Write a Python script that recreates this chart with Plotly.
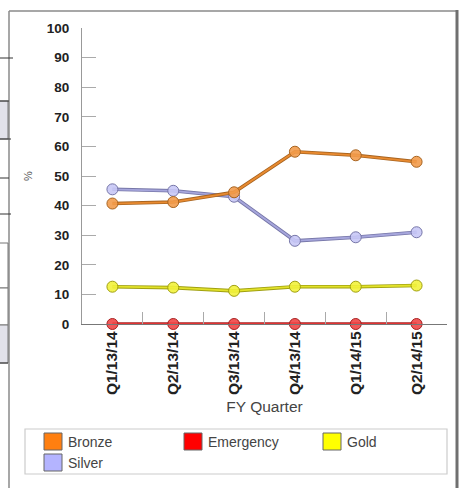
import plotly.graph_objects as go

quarters = ["Q1/13/14", "Q2/13/14", "Q3/13/14", "Q4/13/14", "Q1/14/15", "Q2/14/15"]
bronze = [40.7, 41.2, 44.5, 58.2, 57.0, 54.8]
silver = [45.5, 45.0, 43.0, 28.1, 29.3, 31.0]
gold = [12.6, 12.3, 11.2, 12.6, 12.6, 13.0]
emergency = [0, 0, 0, 0, 0, 0]

series_names = ["Bronze", "Emergency", "Gold", "Silver"]
series_values = [bronze, emergency, gold, silver]
core_colors = ["#E88A30", "#E23232", "#E2E22A", "#A6A6DC"]
edge_colors = ["#A86420", "#A82020", "#A0A010", "#7676A8"]
marker_fill = ["rgba(242,155,75,0.9)", "rgba(240,70,70,0.9)", "rgba(242,242,60,0.9)", "rgba(200,200,246,0.9)"]
legend_colors = ["#FF7F10", "#FF0000", "#FFFF00", "#B4B4FF"]

W, H = 463, 488
L, R, T, B = 82, 16, 28, 164
PW, PH = W - L - R, H - T - B


def px(x):
    return (x - L) / PW


def py(y):
    return (H - B - y) / PH


fig = go.Figure()
draw_order = [1, 2, 3, 0]
for i in draw_order:
    fig.add_trace(go.Scatter(x=quarters, y=series_values[i], mode="lines",
                             line=dict(color=edge_colors[i], width=3.6),
                             showlegend=False, hoverinfo="skip", cliponaxis=False))
    fig.add_trace(go.Scatter(x=quarters, y=series_values[i], mode="lines+markers",
                             line=dict(color=core_colors[i], width=1.8),
                             marker=dict(size=11, color=marker_fill[i],
                                         line=dict(color=edge_colors[i], width=1)),
                             name=series_names[i], showlegend=False, cliponaxis=False))

shapes = []
annotations = []
# outer frame
shapes.append(dict(type="line", xref="paper", yref="paper", x0=px(9), x1=px(9), y0=py(11), y1=py(495),
                   line=dict(color="#8a8a8a", width=1.5)))
shapes.append(dict(type="line", xref="paper", yref="paper", x0=px(9), x1=px(457), y0=py(11), y1=py(11),
                   line=dict(color="#8a8a8a", width=1.5)))
shapes.append(dict(type="line", xref="paper", yref="paper", x0=px(457), x1=px(457), y0=py(10), y1=py(495),
                   line=dict(color="#707070", width=3)))
# fragments of neighbouring table at the left edge
for (y0, y1, fill) in [(101, 139, "#e2e2ea"), (243, 288, "white"), (288, 325, "white"), (325, 363, "#e2e2ea")]:
    shapes.append(dict(type="rect", xref="paper", yref="paper", x0=px(-2), x1=px(8), y0=py(y0), y1=py(y1),
                       fillcolor=fill, line=dict(color="#777777", width=1)))
for (y, x1) in [(58, 13), (101, 9), (139, 11), (178, 9), (214, 11), (363, 8)]:
    shapes.append(dict(type="line", xref="paper", yref="paper", x0=px(0), x1=px(x1), y0=py(y), y1=py(y),
                       line=dict(color="#333333", width=1)))
# legend box
shapes.append(dict(type="rect", xref="paper", yref="paper", x0=px(25), x1=px(447), y0=py(429), y1=py(474),
                   line=dict(color="#cccccc", width=1.2), fillcolor="rgba(0,0,0,0)"))
legend_pos = [(44, 433), (184, 433), (323, 433), (44, 454)]
for i, n in enumerate(series_names):
    x0, y0 = legend_pos[i]
    shapes.append(dict(type="rect", xref="paper", yref="paper", x0=px(x0), x1=px(x0 + 18),
                       y0=py(y0), y1=py(y0 + 17), fillcolor=legend_colors[i],
                       line=dict(color="#666666", width=1)))
    annotations.append(dict(xref="paper", yref="paper", x=px(x0 + 22), y=py(y0 + 8.5),
                            xanchor="left", yanchor="middle", showarrow=False, text=n,
                            font=dict(size=14, color="#444444")))

fig.update_layout(
    width=W, height=H,
    margin=dict(l=L, r=R, t=T, b=B, autoexpand=False),
    paper_bgcolor="white", plot_bgcolor="white",
    font=dict(family="Liberation Sans, Arial, sans-serif", size=12, color="#333333"),
    shapes=shapes, annotations=annotations,
    showlegend=False,
    xaxis=dict(type="category", range=[-0.5, 5.5], showgrid=False, zeroline=False,
               showline=True, linecolor="#777777", linewidth=1.3,
               ticks="inside", ticklen=12, tickcolor="#aaaaaa", tickson="boundaries",
               tickangle=-90, tickfont=dict(size=15.5, color="#222222", weight="bold"),
               title=dict(text="FY Quarter", font=dict(size=15.5, color="#444444"), standoff=7),
               automargin=False),
    yaxis=dict(range=[0, 100], dtick=10, showgrid=False, zeroline=False,
               showline=True, linecolor="#999999", linewidth=1,
               ticks="inside", ticklen=14, tickcolor="#aaaaaa",
               ticklabelstandoff=9,
               tickfont=dict(size=13.5, color="#222222", weight="bold"),
               title=dict(text="%", font=dict(size=11, color="#555555"), standoff=11),
               automargin=False),
)

fig.write_html("out.html")
